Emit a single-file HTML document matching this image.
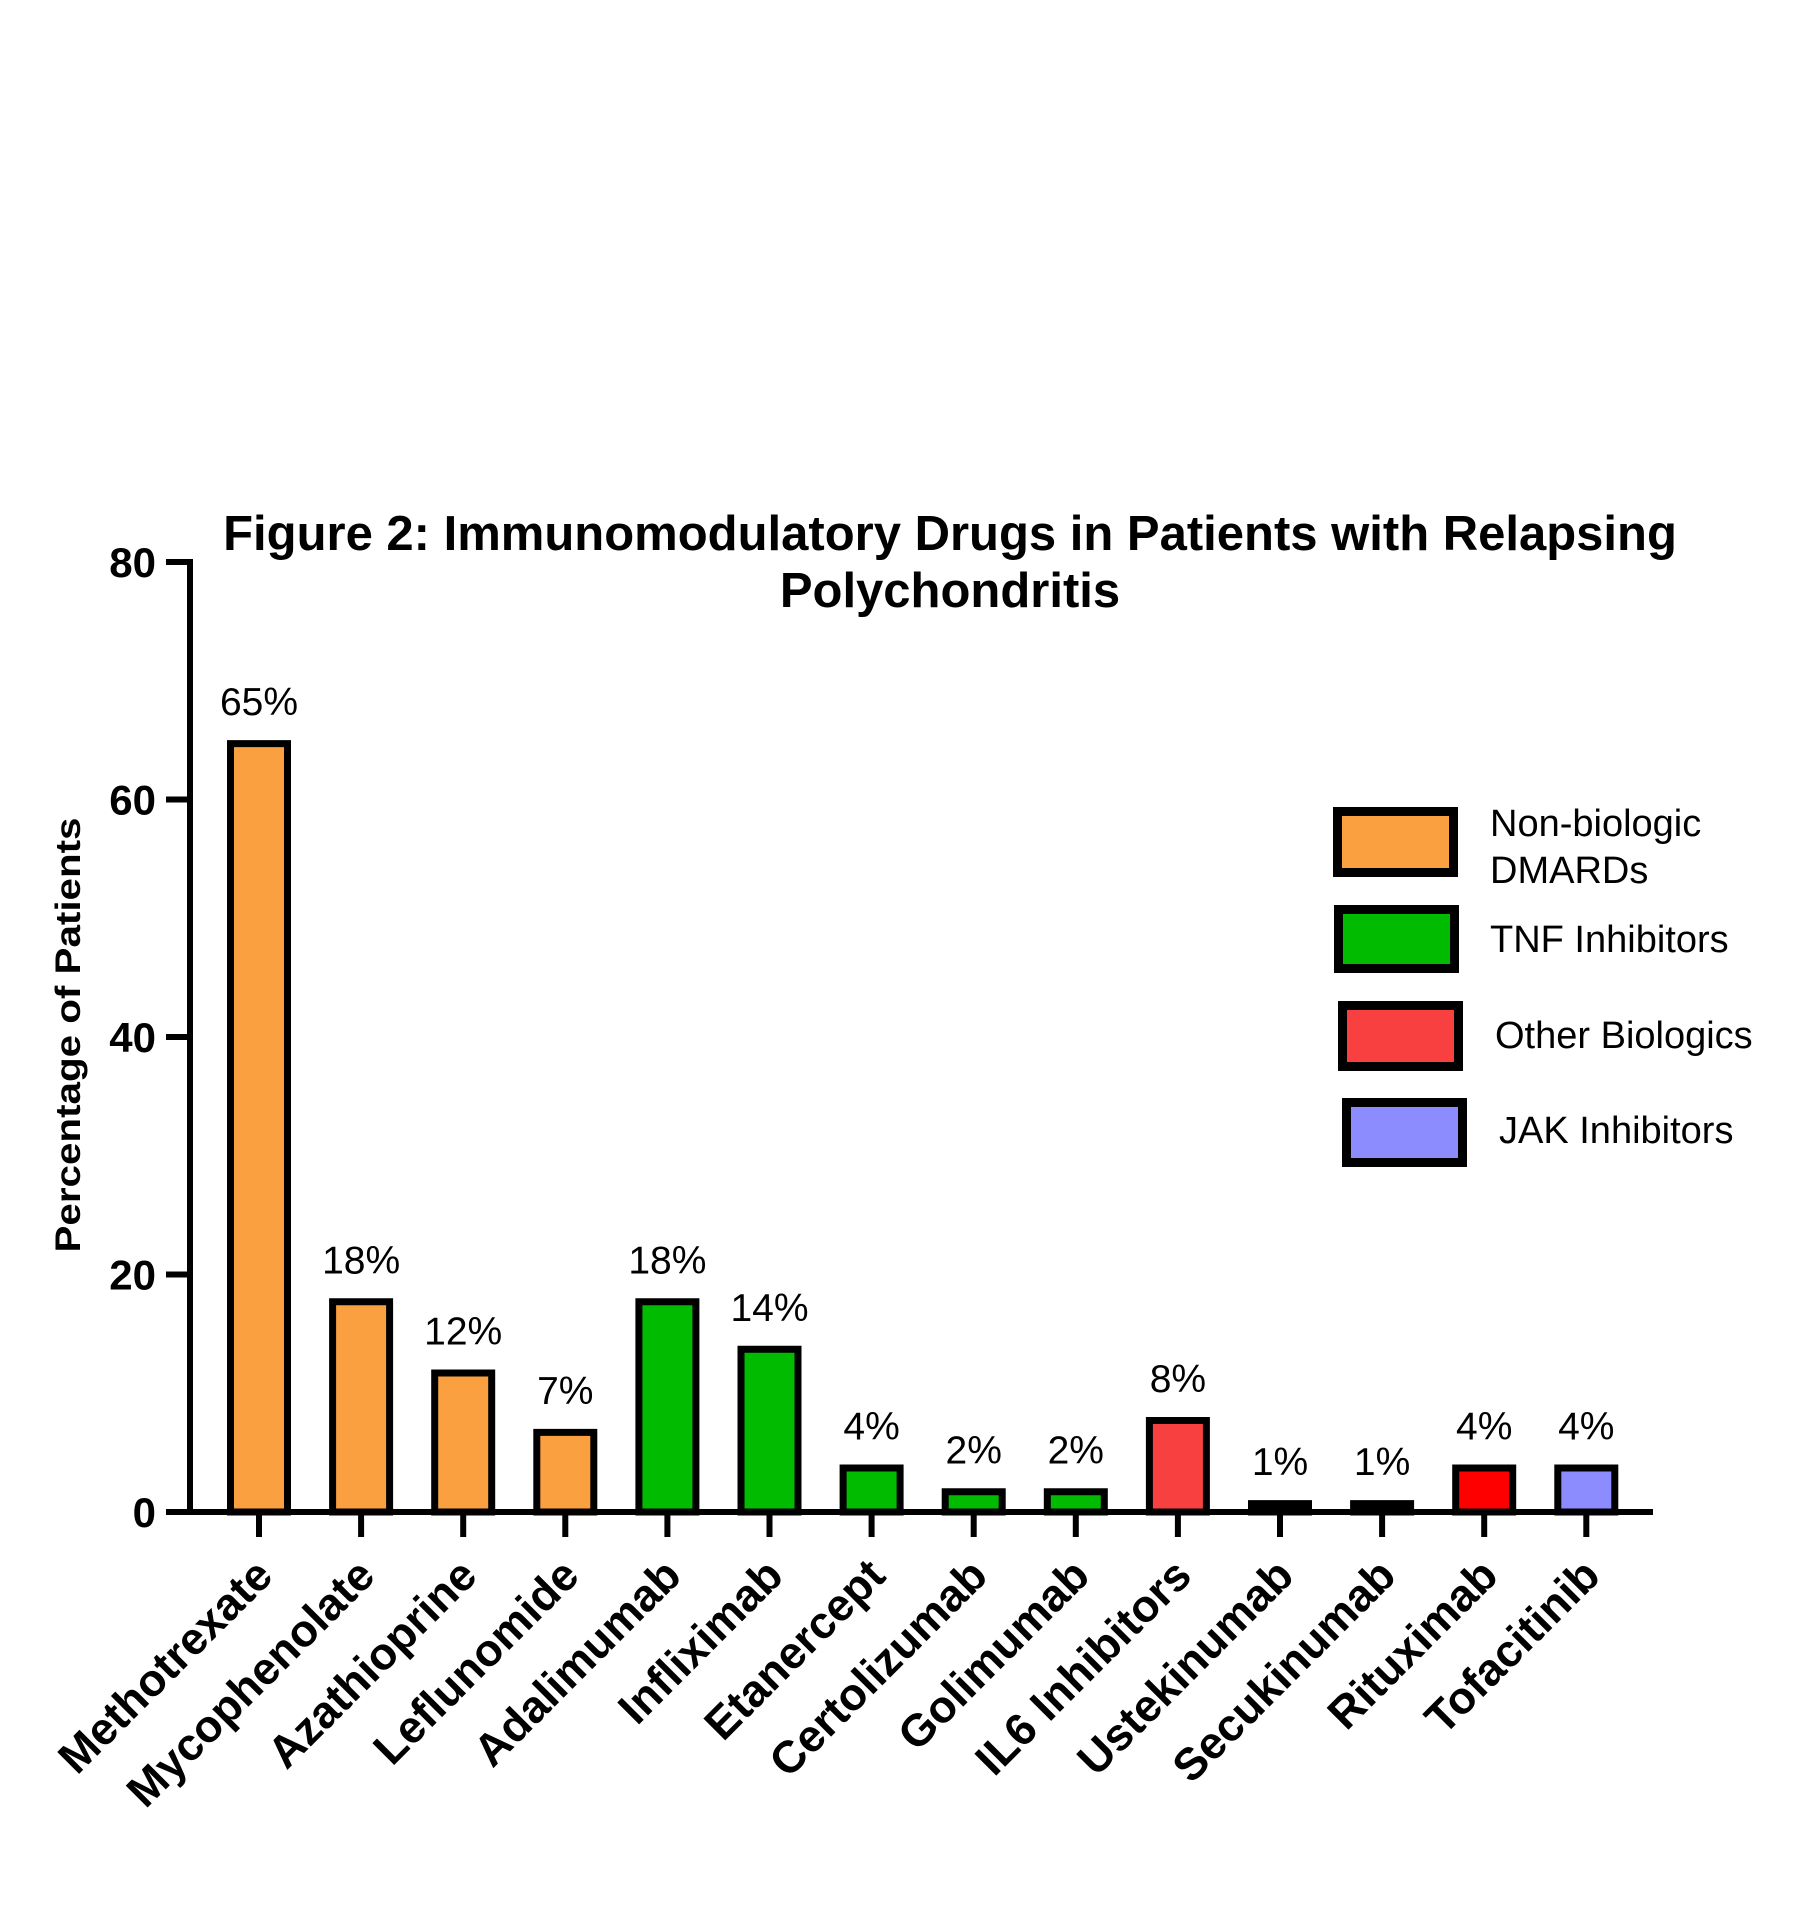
<!DOCTYPE html>
<html><head><meta charset="utf-8"><style>
html,body{margin:0;padding:0;background:#fff;}
svg{display:block;font-family:"Liberation Sans",Arial,sans-serif;}
</style></head><body>
<svg id="chart" width="1806" height="1930" viewBox="0 0 1806 1930" xmlns="http://www.w3.org/2000/svg">
<g>
<text x="950" y="550" text-anchor="middle" font-size="49" font-weight="bold">Figure 2: Immunomodulatory Drugs in Patients with Relapsing</text>
<text x="950" y="607" text-anchor="middle" font-size="49" font-weight="bold">Polychondritis</text>
</g>
<text transform="translate(80,1035) rotate(-90)" text-anchor="middle" font-size="35" font-weight="bold" textLength="435" lengthAdjust="spacingAndGlyphs">Percentage of Patients</text>
<g id="bars"></g>
<g id="axes"></g>
<g>
<g>
<rect x="1337.5" y="811.5" width="116" height="61" fill="#FBA040" stroke="#000" stroke-width="9"/>
<text x="1490" y="836" font-size="38">Non-biologic</text>
<text x="1490" y="883" font-size="38">DMARDs</text>
</g>
<g>
<rect x="1338.5" y="909.5" width="116" height="59" fill="#00BB00" stroke="#000" stroke-width="9"/>
<text x="1490" y="952" font-size="38">TNF Inhibitors</text>
</g>
<g>
<rect x="1342.5" y="1005.5" width="116" height="61" fill="#F84040" stroke="#000" stroke-width="9"/>
<text x="1495" y="1048" font-size="38">Other Biologics</text>
</g>
<g>
<rect x="1346.5" y="1102.5" width="116" height="60" fill="#8C8CFF" stroke="#000" stroke-width="9"/>
<text x="1499" y="1143" font-size="38">JAK Inhibitors</text>
</g>
</g>
</svg>
<script>
const categories = ["Methotrexate","Mycophenolate","Azathioprine","Leflunomide","Adalimumab","Infliximab","Etanercept","Certolizumab","Golimumab","IL6 Inhibitors","Ustekinumab","Secukinumab","Rituximab","Tofacitinib"];
const values = [65,18,12,7,18,14,4,2,2,8,1,1,4,4];
const valueLabels = ["65%","18%","12%","7%","18%","14%","4%","2%","2%","8%","1%","1%","4%","4%"];
const barColors = ["#FBA040","#FBA040","#FBA040","#FBA040","#00BB00","#00BB00","#00BB00","#00BB00","#00BB00","#F84040","#000000","#000000","#FF0000","#8C8CFF"];
const yTicks = [0,20,40,60,80];

const NS = "http://www.w3.org/2000/svg";
const X0 = 190, X1 = 1653, Y0 = 1512, Y80 = 562;
const firstC = 259, step = 102.1;
function xScale(i){ return firstC + i*step; }
function yScale(v){ return Y0 - (v/80)*(Y0-Y80); }
function mk(tag, attrs, parent){ const e=document.createElementNS(NS,tag); for(const k in attrs) e.setAttribute(k,attrs[k]); parent.appendChild(e); return e; }

const bars = document.getElementById('bars');
const axes = document.getElementById('axes');
const bw = 57;
categories.forEach((c,i)=>{
  const cx = xScale(i), top = yScale(values[i]);
  const r = mk('rect',{x:cx-bw/2, y:top+3.5, width:bw, height:Math.max(Y0-top-3.5,0.1), fill:barColors[i], stroke:'#000','stroke-width':7}, bars);
  
  
  const t = mk('text',{x:cx, y:top-25, 'text-anchor':'middle','font-size':39}, bars);
  t.textContent = valueLabels[i];
  
  
  const tk = mk('line',{x1:cx, x2:cx, y1:Y0, y2:Y0+25, stroke:'#000','stroke-width':6}, axes);
  
  
  const lx = cx+16, ly = Y0+66;
  const lb = mk('text',{x:lx, y:ly, 'text-anchor':'end','font-size':45,'font-weight':'bold', transform:'rotate(-45 '+lx+' '+ly+')'}, axes);
  lb.textContent = c;
  
  
});
const ya = mk('line',{x1:X0, x2:X0, y1:Y80-3, y2:Y0+3, stroke:'#000','stroke-width':6}, axes);


const xa = mk('line',{x1:X0-3, x2:X1, y1:Y0, y2:Y0, stroke:'#000','stroke-width':6}, axes);


yTicks.forEach(v=>{
  const y = yScale(v);
  const l = mk('line',{x1:X0-24, x2:X0, y1:y, y2:y, stroke:'#000','stroke-width':6}, axes);
  
  
  const t = mk('text',{x:X0-34, y:y+15, 'text-anchor':'end','font-size':42,'font-weight':'bold'}, axes);
  t.textContent = v;
  
  
});
</script>
</body></html>
